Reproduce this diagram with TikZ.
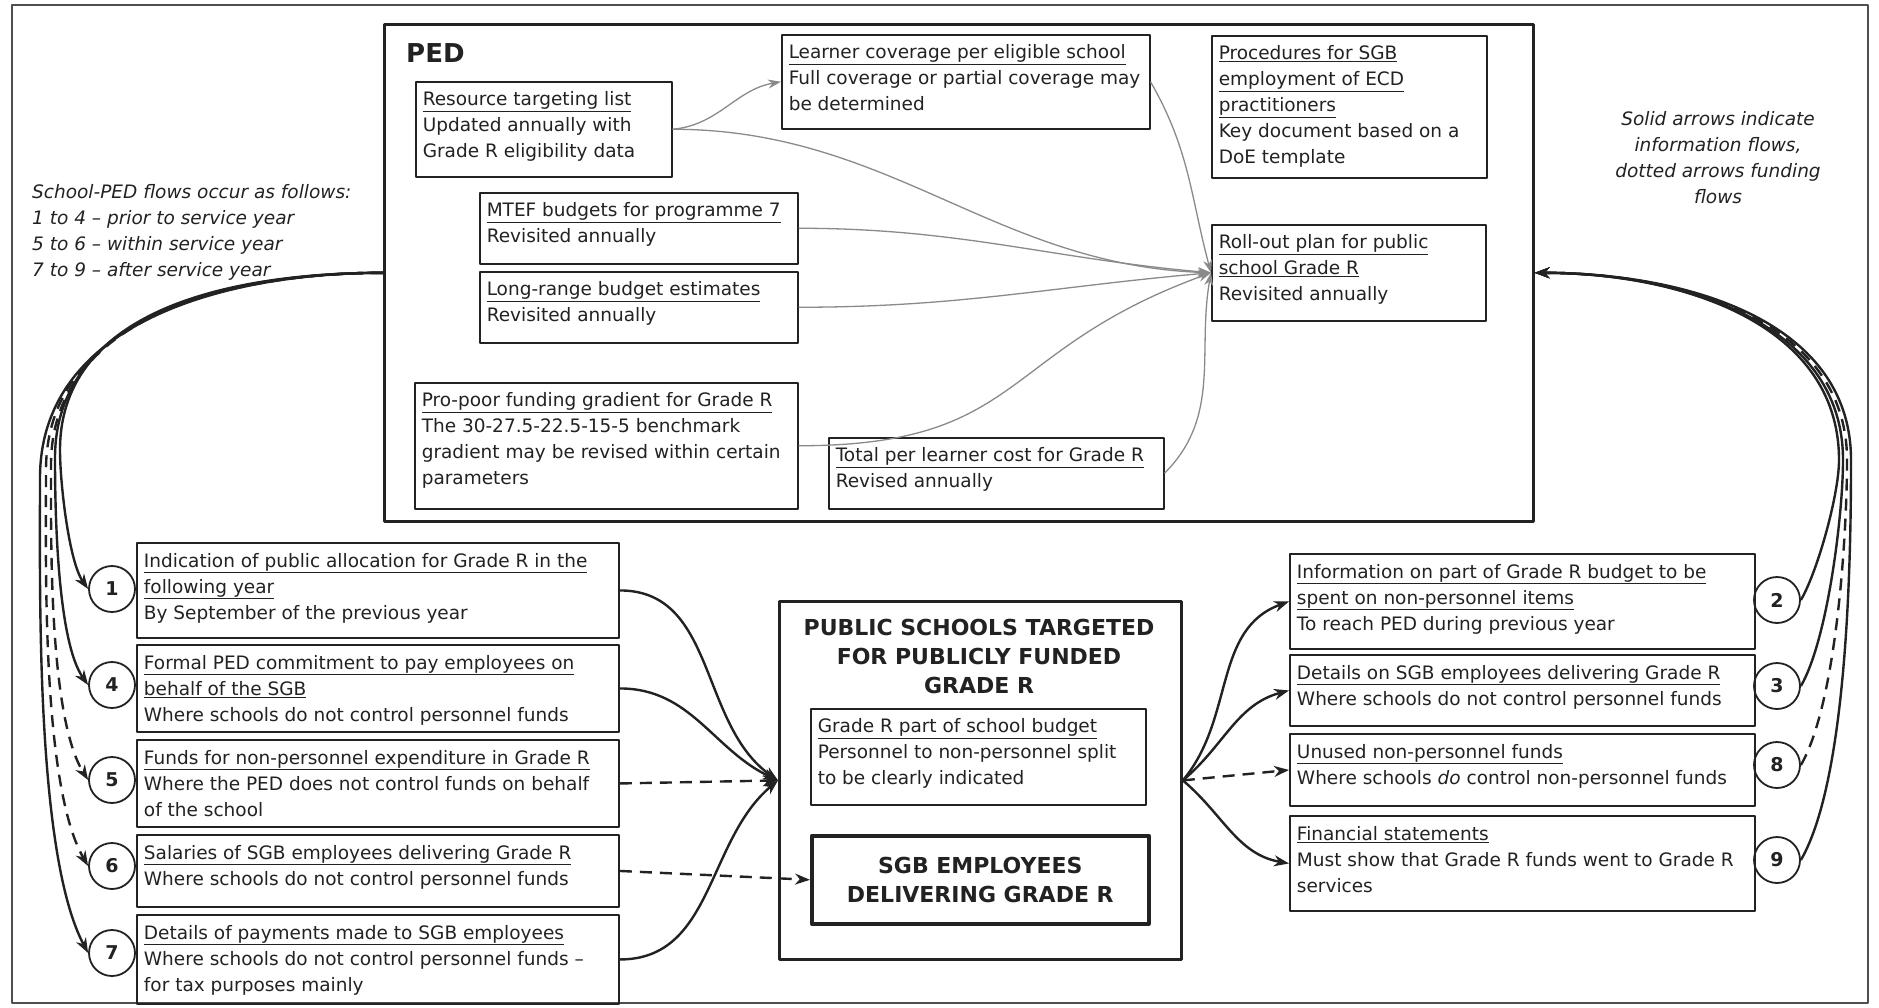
\documentclass[tikz,border=0pt]{standalone}
\usepackage{fontspec}
\setmainfont{DejaVu Sans}
\usetikzlibrary{arrows.meta,calc}
\definecolor{ink}{HTML}{222222}
\definecolor{flowgrey}{HTML}{8A8A8A}
\newcommand{\bodyfont}{\fontsize{18.5}{26}\selectfont}
\newcommand{\headfont}{\fontsize{22}{29}\selectfont\bfseries}
\newcommand{\boxlines}[3]{\parbox[t][#2][t]{#1}{\begin{tabular}[t]{@{}l@{}}#3\end{tabular}}}
\begin{document}
\begin{tikzpicture}[x=1pt,y=-1pt,line join=round,
    every node/.style={text=ink},
    infobox/.style={draw=ink,line width=1.9pt,anchor=north west,inner xsep=7pt,inner ysep=6pt,font=\bodyfont},
    pedinner/.style={infobox,line width=1.5pt},
    bigbox/.style 2 args={draw=ink,anchor=north west,inner sep=0pt,minimum width=#1,minimum height=#2},
    numc/.style={draw=ink,circle,line width=1.8pt,minimum size=46pt,inner sep=0pt,font=\fontsize{19}{19}\selectfont\bfseries},
    info/.style={draw=ink,line width=2.4pt,-{Stealth[length=15pt,width=11pt]}},
    fund/.style={info,dash pattern=on 12pt off 8pt},
    feed/.style={draw=flowgrey,line width=1.3pt,-{Stealth[length=13pt,width=9pt]}},
    note/.style={font=\bodyfont\itshape,inner sep=0pt}]
    \useasboundingbox (0,0) rectangle (1879,1007);
    \fill[white] (0,0) rectangle (1879,1007);
    \draw[ink!80,line width=1.2pt] (12,5) rectangle (1868,1003);
    % PED
    \node[bigbox={1149pt}{497pt},line width=2.6pt] (ped) at (383,23) {};
    \node[font=\fontsize{26}{26}\selectfont\bfseries,anchor=base west,inner sep=0pt] (pedlabel) at (406,62) {PED};
    \node[pedinner] (res) at (415,81) {\boxlines{242pt}{83pt}{\underline{Resource targeting list}\\Updated annually with\\Grade R eligibility data}};
    \node[pedinner] (learner) at (781,34) {\boxlines{354pt}{82pt}{\underline{Learner coverage per eligible school}\\Full coverage or partial coverage may\\be determined}};
    \node[pedinner] (proc) at (1211,35) {\boxlines{261pt}{130pt}{\underline{Procedures for SGB}\\\underline{employment of ECD}\\\underline{practitioners}\\Key document based on a\\DoE template}};
    \node[pedinner] (mtef) at (479,192) {\boxlines{304pt}{59pt}{\underline{MTEF budgets for programme 7}\\Revisited annually}};
    \node[pedinner] (longr) at (479,271) {\boxlines{304pt}{59pt}{\underline{Long-range budget estimates}\\Revisited annually}};
    \node[pedinner] (roll) at (1211,224) {\boxlines{260pt}{84pt}{\underline{Roll-out plan for public}\\\underline{school Grade R}\\Revisited annually}};
    \node[pedinner] (propoor) at (414,382) {\boxlines{369pt}{114pt}{\underline{Pro-poor funding gradient for Grade R}\\The 30-27.5-22.5-15-5 benchmark\\gradient may be revised within certain\\parameters}};
    \node[pedinner] (total) at (828,437) {\boxlines{321pt}{59pt}{\underline{Total per learner cost for Grade R}\\Revised annually}};
    % notes
    \node[note,anchor=north west,align=left] (flownote) at (32,184) {School-PED flows occur as follows:\\1 to 4 – prior to service year\\5 to 6 – within service year\\7 to 9 – after service year};
    \node[note,align=center] (keynote) at (1718,158) {Solid arrows indicate\\information flows,\\dotted arrows funding\\flows};
    % left boxes
    \node[infobox] (b1) at (136,542) {\boxlines{468pt}{83pt}{\underline{Indication of public allocation for Grade R in the}\\\underline{following year}\\By September of the previous year}};
    \node[infobox] (b4) at (136,644) {\boxlines{468pt}{75pt}{\underline{Formal PED commitment to pay employees on}\\\underline{behalf of the SGB}\\Where schools do not control personnel funds}};
    \node[infobox] (b5) at (136,739) {\boxlines{468pt}{75pt}{\underline{Funds for non-personnel expenditure in Grade R}\\Where the PED does not control funds on behalf\\of the school}};
    \node[infobox] (b6) at (136,834) {\boxlines{468pt}{60pt}{\underline{Salaries of SGB employees delivering Grade R}\\Where schools do not control personnel funds}};
    \node[infobox] (b7) at (136,914) {\boxlines{468pt}{77pt}{\underline{Details of payments made to SGB employees}\\Where schools do not control personnel funds –\\for tax purposes mainly}};
    \node[numc] (c1) at (112,589) {1};
    \node[numc] (c4) at (112,685) {4};
    \node[numc] (c5) at (112,780) {5};
    \node[numc] (c6) at (112,866) {6};
    \node[numc] (c7) at (112,953) {7};
    % public schools
    \node[bigbox={402pt}{358pt},line width=2.8pt] (ps) at (778,600) {};
    \node[font=\headfont,align=center,inner sep=0pt] (pstitle) at (979,656) {PUBLIC SCHOOLS TARGETED\\FOR PUBLICLY FUNDED\\GRADE R};
    \node[pedinner] (budget) at (810,708) {\boxlines{321pt}{84pt}{\underline{Grade R part of school budget}\\Personnel to non-personnel split\\to be clearly indicated}};
    \node[bigbox={337pt}{88pt},line width=3.6pt,font=\headfont,align=center] (sgb) at (810,834) {SGB EMPLOYEES\\DELIVERING GRADE R};
    % right boxes
    \node[infobox] (b2) at (1289,553) {\boxlines{451pt}{83pt}{\underline{Information on part of Grade R budget to be}\\\underline{spent on non-personnel items}\\To reach PED during previous year}};
    \node[infobox] (b3) at (1289,654) {\boxlines{451pt}{59pt}{\underline{Details on SGB employees delivering Grade R}\\Where schools do not control personnel funds}};
    \node[infobox] (b8) at (1289,733) {\boxlines{451pt}{60pt}{\underline{Unused non-personnel funds}\\Where schools \textit{do} control non-personnel funds}};
    \node[infobox] (b9) at (1289,815) {\boxlines{451pt}{83pt}{\underline{Financial statements}\\Must show that Grade R funds went to Grade R\\services}};
    \node[numc] (c2) at (1777,600) {2};
    \node[numc] (c3) at (1777,686) {3};
    \node[numc] (c8) at (1777,765) {8};
    \node[numc] (c9) at (1777,860) {9};
    % flows inside PED
    \draw[feed] (res.east) to[out=5,in=190] (learner.west);
    \draw[feed] (res.east) to[out=0,in=178] (roll.west);
    \draw[feed] (learner.east) to[out=-60,in=105] (roll.west);
    \draw[feed] (mtef.east) to[out=0,in=175] (roll.west);
    \draw[feed] (longr.east) to[out=0,in=185] (roll.west);
    \draw[feed] (propoor.east) to[out=0,in=200,looseness=1.3] (roll.west);
    \draw[feed] (total.east) to[out=45,in=-100] (roll.west);
    % PED to schools
    \coordinate (lb) at (44,470);
    \draw[info] (ped.west) to[out=180,in=90] ($(lb)+(16,-20)$) to[out=-90,in=125,looseness=0.6] (c1.west);
    \draw[info] (ped.west) to[out=180,in=90] ($(lb)+(11,-12)$) to[out=-90,in=125,looseness=0.6] (c4.west);
    \draw[fund] (ped.west) to[out=180,in=90] ($(lb)+(7,-5)$) to[out=-90,in=122,looseness=0.6] (c5.west);
    \draw[fund] (ped.west) to[out=180,in=90] ($(lb)+(2,0)$) to[out=-90,in=120,looseness=0.6] (c6.west);
    \draw[info] (ped.west) to[out=180,in=90] ($(lb)+(-4,8)$) to[out=-90,in=118,looseness=0.6] (c7.west);
    % into the schools
    \draw[info] (b1.east) to[out=0,in=145] (ps.west);
    \draw[info] (b4.east) to[out=0,in=155] (ps.west);
    \draw[fund] (b5.east) -- (ps.west);
    \draw[fund] (b6.east) -- (sgb.west);
    \draw[info] (b7.east) to[out=0,in=-140] (ps.west);
    % out of the schools
    \draw[info] (ps.east) to[out=50,in=200] (b2.west);
    \draw[info] (ps.east) to[out=40,in=195] (b3.west);
    \draw[fund] (ps.east) -- (b8.west);
    \draw[info] (ps.east) to[out=-40,in=170] (b9.west);
    % schools to PED
    \coordinate (rb) at (1845,460);
    \draw[info] (c2.east) to[out=60,in=-90,looseness=0.6] ($(rb)+(-6,0)$) to[out=90,in=0] (ped.east);
    \draw[info] (c3.east) to[out=60,in=-90,looseness=0.6] ($(rb)+(-2,0)$) to[out=90,in=0] (ped.east);
    \draw[fund] (c8.east) to[out=60,in=-90,looseness=0.6] ($(rb)+(2,0)$) to[out=90,in=0] (ped.east);
    \draw[info] (c9.east) to[out=60,in=-90,looseness=0.6] ($(rb)+(6,0)$) to[out=90,in=0] (ped.east);
\end{tikzpicture}
\end{document}
